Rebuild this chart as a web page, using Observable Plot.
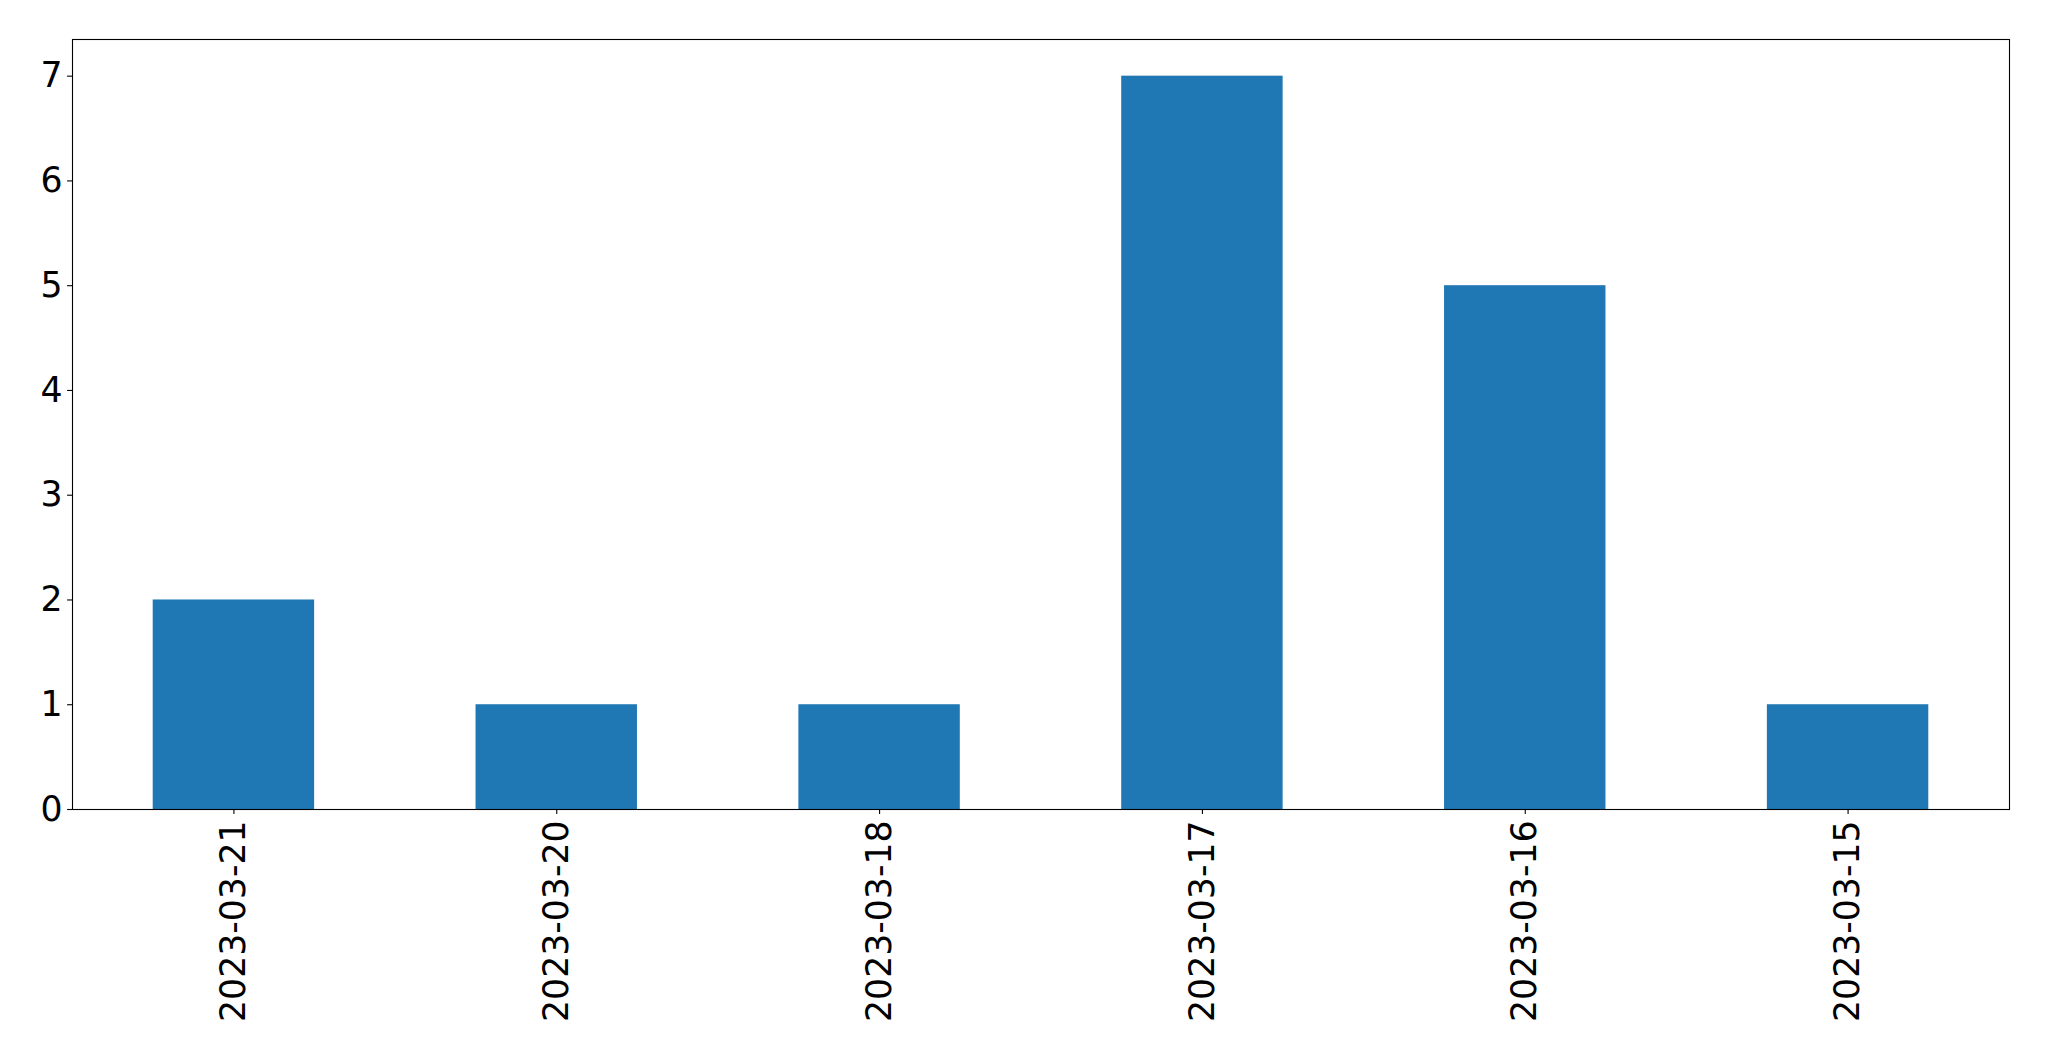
<!DOCTYPE html>
<html>
<head>
<meta charset="utf-8">
<script src="https://cdn.jsdelivr.net/npm/d3@7"></script>
<script src="https://cdn.jsdelivr.net/npm/@observablehq/plot@0.6"></script>
<style>
  html, body { margin: 0; padding: 0; background: #fff; }
</style>
</head>
<body>
<div id="chart"></div>
<script>
const dates = ["2023-03-21", "2023-03-20", "2023-03-18", "2023-03-17", "2023-03-16", "2023-03-15"];
const counts = [2, 1, 1, 7, 5, 1];
const yTicks = [0, 1, 2, 3, 4, 5, 6, 7];

const data = dates.map((d, i) => ({date: d, count: counts[i]}));

const chart = Plot.plot({
  width: 2049,
  height: 1061,
  marginLeft: 72,
  marginRight: 40,
  marginTop: 39,
  marginBottom: 252,
  style: {fontFamily: "DejaVu Sans", fontSize: "34.7px", color: "#000", background: "#fff"},
  x: {type: "band", domain: dates, paddingInner: 0.5, paddingOuter: 0.25, round: false, label: null},
  y: {domain: [0, 7.35], label: null},
  marks: [
    Plot.barY(data, {x: "date", y: "count", fill: "#1f77b4"}),
    Plot.frame({stroke: "#000", strokeWidth: 1.1}),
    Plot.axisY({ticks: yTicks, tickSize: 4.9, tickPadding: 5, strokeWidth: 1.1, label: null, tickFormat: d => String(d)}),
    Plot.axisX({tickSize: 4.9, tickPadding: 6, strokeWidth: 1.1, tickRotate: -90, label: null})
  ]
});
document.getElementById("chart").appendChild(chart);
</script>
</body>
</html>
